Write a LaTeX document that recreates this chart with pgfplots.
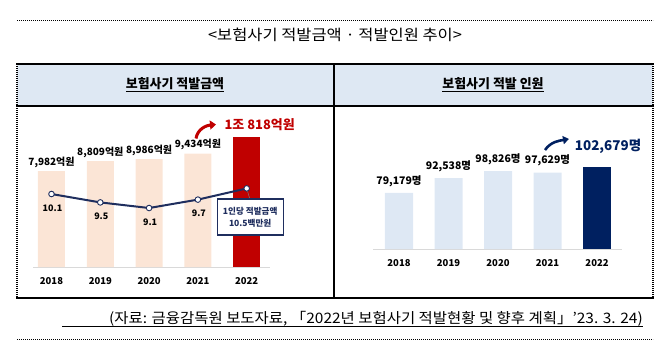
\documentclass[border=0pt]{standalone}
\usepackage{pgfplots}
\pgfplotsset{compat=1.18}
\usepackage{fontspec}
\setmainfont{Noto Sans CJK KR}
\usetikzlibrary{arrows.meta}
\definecolor{hdr}{HTML}{DEE8F3}
\definecolor{peach}{HTML}{FBE5D6}
\definecolor{dred}{HTML}{C00000}
\definecolor{lblue}{HTML}{DEE8F4}
\definecolor{navy}{HTML}{002060}
\definecolor{lnavy}{HTML}{1F2E5E}
\definecolor{basegray}{HTML}{D9D9D9}
\newcommand{\fs}[1]{\fontsize{#1}{#1}\selectfont}
\begin{document}
\begin{tikzpicture}
\begin{scope}[x=1bp,y=-1bp]
\useasboundingbox (0,0) rectangle (672,353);
% dotted rules
\draw[line width=0.9bp, dash pattern=on 1bp off 1bp] (17,20) -- (653,20);
\draw[line width=0.9bp, dash pattern=on 1bp off 1bp] (17,339) -- (653,339);
% title
\node[font=\fs{15}] at (335,35) {\scalebox{1.1}[1]{<보험사기 적발금액 · 적발인원 추이>}};
% table
\fill[hdr] (17,64) rectangle (653,106);
\draw[line width=1.2bp, dash pattern=on 1bp off 1bp] (17,64) -- (17,298);
\draw[line width=1.2bp, dash pattern=on 1bp off 1bp] (653,64) -- (653,298);
\draw[line width=1.5bp] (16.4,64) -- (653.6,64);
\draw[line width=1.5bp] (16.4,106) -- (653.6,106);
\draw[line width=1.5bp] (16.4,298) -- (653.6,298);
\draw[line width=1.5bp] (334,64) -- (334,298);
\node[font=\bfseries\fs{13}] at (175,85) {\underline{보험사기 적발금액}};
\node[font=\bfseries\fs{13}] at (493,85) {\underline{보험사기 적발 인원}};
% footer
\node[font=\fs{14.5}, anchor=base east, inner sep=0pt] at (643,323) {\scalebox{1.07}[1]{(자료: 금융감독원 보도자료, 「2022년 보험사기 적발현황 및 향후 계획」'23. 3. 24)}};
\draw[line width=0.8bp] (62,326) -- (643,326);
% arrows
\draw[dred, line width=3bp, -{Triangle[length=6bp,width=9bp]}] (196,138.5) to[out=82,in=185] (216,124.5);
\draw[navy, line width=2.6bp, -{Triangle[length=6bp,width=8bp]}] (545,150) to[out=55,in=190] (569,139);
\end{scope}

% ---------- left panel: amounts ----------
\begin{axis}[
  at={(33bp,-267bp)}, anchor=south west,
  scale only axis, width=237bp, height=144.2bp,
  xmin=-0.379, xmax=4.478, ymin=0, ymax=12000,
  axis x line*=bottom, axis y line=none,
  x axis line style={draw=basegray, line width=1bp, -},
  xtick={0,1,2,3,4}, xticklabels={2018,2019,2020,2021,2022},
  major tick length=0pt,
  xticklabel style={font=\bfseries\fs{9.5}, yshift=-7bp},
  ytick=\empty, clip=false,
  /pgf/number format/assume math mode=true,
]
\addplot[ybar, bar width=27bp, bar shift=0pt, fill=peach, draw=none,
  nodes near coords, point meta=explicit symbolic,
  nodes near coords style={font=\bfseries\fs{10}, text=black, anchor=south, yshift=0bp}]
  coordinates {(0,7982) [7,982억원] (1,8809) [8,809억원] (2,8986) [8,986억원] (3,9434) [9,434억원]};
\addplot[ybar, bar width=27bp, bar shift=0pt, fill=dred, draw=none]
  coordinates {(4,10818)};
\node[font=\bfseries\fs{13}, text=dred, anchor=south, xshift=13bp, yshift=3bp] at (axis cs:4,10818) {1조 818억원};
\end{axis}

\begin{axis}[
  at={(33bp,-267bp)}, anchor=south west,
  scale only axis, width=237bp, height=144.2bp,
  xmin=-0.379, xmax=4.478, ymin=4.886, ymax=15.186,
  hide axis, clip=false,
  /pgf/number format/assume math mode=true,
]
\addplot[lnavy, line width=2bp, mark=*, mark size=2.8bp,
  mark options={fill=white, draw=lnavy, line width=0.9bp}]
  coordinates {(0,10.1) (1,9.5) (2,9.1) (3,9.7) (4,10.5)};
\addplot[draw=none, mark=none, nodes near coords, point meta=y,
  /pgf/number format/.cd, fixed, precision=1, fixed zerofill, assume math mode=true, /pgfplots/.cd,
  nodes near coords style={font=\bfseries\fs{9}, text=black, anchor=center, yshift=-14bp, xshift=1bp}]
  coordinates {(0,10.1) (1,9.5) (2,9.1) (3,9.7)};
\draw[gray, line width=0.5bp] (axis cs:4,10.5) -- ++(3bp,-10bp);
\node[draw=lnavy, line width=1.2bp, fill=white, text=lnavy, font=\bfseries\fs{8.6},
  minimum width=66bp, minimum height=36bp, inner sep=1bp, align=center,
  anchor=north, xshift=3.5bp, yshift=-10bp] at (axis cs:4,10.5)
  {1인당 적발금액\\[3.5bp]10.5백만원};
\end{axis}

% ---------- right panel: persons ----------
\begin{axis}[
  at={(373bp,-249bp)}, anchor=south west,
  scale only axis, width=249bp, height=100bp,
  xmin=-0.525, xmax=4.505, ymin=28500, ymax=118880,
  axis x line*=bottom, axis y line=none,
  x axis line style={draw=basegray, line width=1bp, -},
  xtick={0,1,2,3,4}, xticklabels={2018,2019,2020,2021,2022},
  major tick length=0pt,
  xticklabel style={font=\bfseries\fs{9.5}, yshift=-7bp},
  ytick=\empty, clip=false,
  /pgf/number format/assume math mode=true,
]
\addplot[ybar, bar width=28bp, bar shift=0pt, fill=lblue, draw=none,
  nodes near coords, point meta=explicit symbolic,
  nodes near coords style={font=\bfseries\fs{10.5}, text=black, anchor=south, yshift=3bp}]
  coordinates {(0,79179) [79,179명] (1,92538) [92,538명] (2,98826) [98,826명] (3,97629) [97,629명]};
\addplot[ybar, bar width=28bp, bar shift=0pt, fill=navy, draw=none]
  coordinates {(4,102679)};
\node[font=\bfseries\fs{13.5}, text=navy, anchor=south, xshift=11bp, yshift=10bp] at (axis cs:4,102679) {102,679명};
\end{axis}
\end{tikzpicture}
\end{document}
